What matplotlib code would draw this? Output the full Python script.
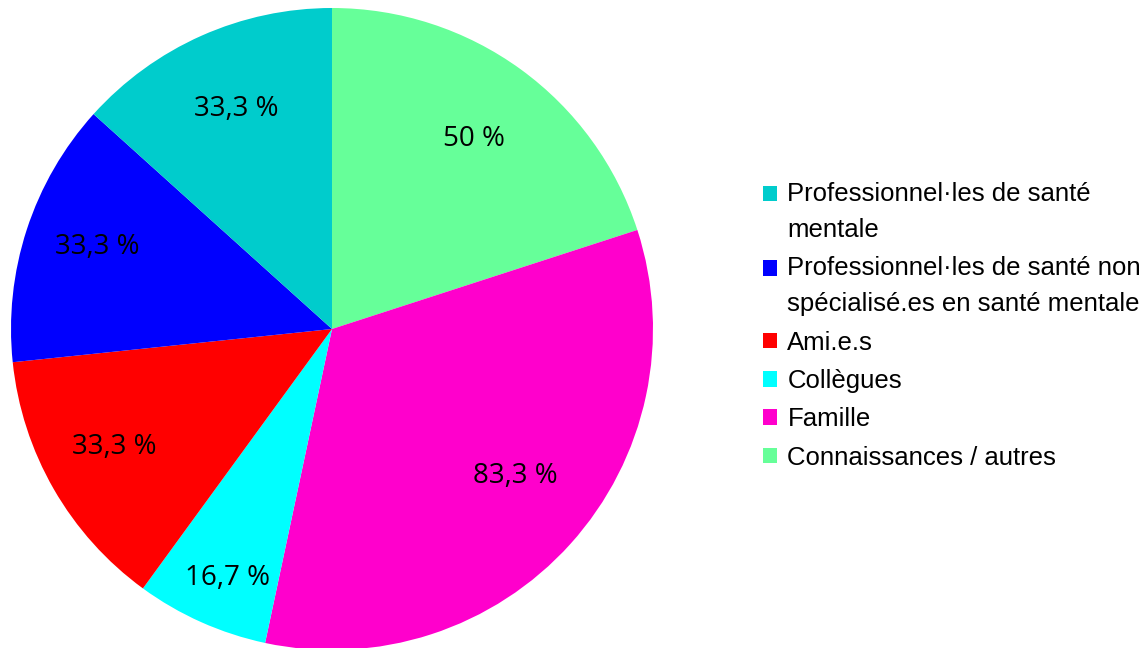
import matplotlib.pyplot as plt
import numpy as np
from matplotlib.patches import Patch, Rectangle
from matplotlib.legend_handler import HandlerPatch

# Data (clockwise from 12 o'clock)
categories = ['Connaissances / autres', 'Famille', 'Collègues', 'Ami.e.s',
              'Professionnel·les de santé non\nspécialisé.es en santé mentale',
              'Professionnel·les de santé\nmentale']
values = [50, 83.3, 16.7, 33.3, 33.3, 33.3]
colors = ['#66FF99', '#FF00CC', '#00FFFF', '#FF0000', '#0000FF', '#00CCCC']

# label distance from centre (fraction of radius) + small nudges
label_r = [0.75, 0.74, 0.85, 0.77, 0.77, 0.75]
nudge = [(0, -0.015), (0.02, 0.037), (0.02, 0), (-0.01, 0.017), (0, 0.017), (0.008, 0)]

fig = plt.figure(figsize=(11.48, 6.48), dpi=100)
# pie: centre (332, 329) px, radius 321 px
ax = fig.add_axes([11 / 1148, (648 - 329 - 321) / 648, 642 / 1148, 642 / 648])

wedges, _ = ax.pie(values, colors=colors, startangle=90, counterclock=False,
                   wedgeprops=dict(linewidth=0))
ax.set_xlim(-1, 1)
ax.set_ylim(-1, 1)
ax.set_aspect('equal')
ax.axis('off')

# Percent labels
for w, v, r, (dx, dy) in zip(wedges, values, label_r, nudge):
    mid = np.deg2rad((w.theta1 + w.theta2) / 2)
    txt = '{:g}'.format(v).replace('.', ',') + ' %'
    ax.text(r * np.cos(mid) + dx, r * np.sin(mid) + dy, txt, ha='center', va='center',
            fontsize=20, family='Open Sans', color='black')


# markers of two-line entries sit next to the first line
def top_square(legend, orig_handle, xdescent, ydescent, width, height, fontsize):
    return Rectangle((-xdescent, -ydescent + 13.5), width, height)


handles = [Patch(facecolor=c, edgecolor='none') for c in colors][::-1]
labels = categories[::-1]
hmap = {h: HandlerPatch(patch_func=top_square) for h, l in zip(handles, labels) if '\n' in l}
leg = fig.legend(handles, labels, loc='center left', bbox_to_anchor=(763 / 1148, 0.497),
                 frameon=False, prop={'family': 'Liberation Sans', 'size': 18.5},
                 handlelength=0.55, handleheight=0.55, handletextpad=0.4,
                 borderpad=0, borderaxespad=0, labelspacing=0.56, handler_map=hmap)
for t in leg.get_texts():
    t.set_linespacing(1.62)

fig.savefig('out.png', dpi=100)
